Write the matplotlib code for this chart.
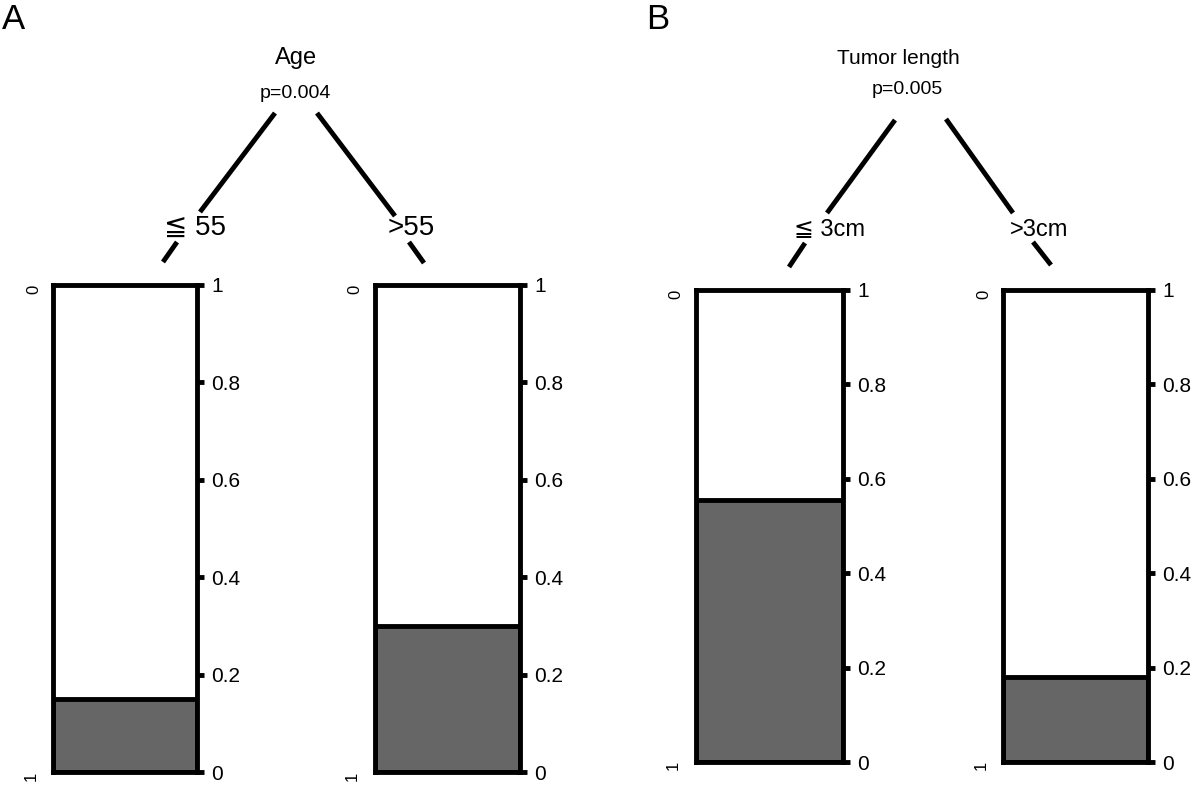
import matplotlib
matplotlib.use("Agg")
import matplotlib.pyplot as plt

# Data
panels = ["A", "B"]
node_titles = ["Age", "Tumor length"]
p_values = ["p=0.004", "p=0.005"]
branch_labels = ["≦ 55", ">55", "≦ 3cm", ">3cm"]
proportions = [0.15, 0.30, 0.555, 0.18]
tick_values = [0, 0.2, 0.4, 0.6, 0.8, 1]
tick_labels = ["0", "0.2", "0.4", "0.6", "0.8", "1"]

W, H = 1200, 786
SANS = ["Liberation Sans", "DejaVu Sans"]

# bar boxes in pixels: left, right, top, bottom
boxes = [(53, 197, 285, 772), (374.5, 520, 285, 772),
         (695.5, 843, 290, 762), (1003, 1148, 290, 762)]

fig = plt.figure(figsize=(W / 100, H / 100), dpi=100)

for (l, r, t, b), v in zip(boxes, proportions):
    ax = fig.add_axes([l / W, (H - b) / H, (r - l) / W, (b - t) / H])
    ax.bar(0.5, v, width=1, color="#666666", edgecolor="black", linewidth=3.5)
    ax.set_xlim(0, 1)
    ax.set_ylim(0, 1)
    for s in ax.spines.values():
        s.set_linewidth(3.5)
    ax.set_xticks([])
    ax.yaxis.tick_right()
    ax.set_yticks(tick_values)
    ax.set_yticklabels(tick_labels, family=SANS, fontsize=15)
    ax.tick_params(axis="y", length=5, width=3.5, pad=5)
    ax.text(-0.135, 0.99, "0", transform=ax.transAxes, rotation=90,
            ha="center", va="center", fontsize=12, family=SANS)
    ax.text(-0.15, -0.008, "1", transform=ax.transAxes, rotation=90,
            ha="center", va="center", fontsize=12, family=SANS)

# overlay for tree
ov = fig.add_axes([0, 0, 1, 1])
ov.set_xlim(0, W)
ov.set_ylim(H, 0)
ov.axis("off")

segments = [
    [(275, 113), (200, 212)], [(317, 113), (395, 216)],
    [(177, 242), (163, 262)], [(409, 242), (424, 263)],
    [(895, 120), (827, 213)], [(946, 119), (1013, 213)],
    [(805, 243), (789, 267)], [(1033, 242), (1051, 265)],
]
for (x0, y0), (x1, y1) in segments:
    ov.plot([x0, x1], [y0, y1], color="black", lw=3.5, solid_capstyle="butt")

ov.text(2, 3, panels[0], fontsize=25, family=SANS, ha="left", va="top")
ov.text(646, 3, panels[1], fontsize=25, family=SANS, ha="left", va="top")

ov.text(296, 58, node_titles[0], fontsize=17, family=SANS, ha="center", va="center")
ov.text(295, 93, p_values[0], fontsize=14, family=SANS, ha="center", va="center")
ov.text(898, 58, node_titles[1], fontsize=15, family=SANS, ha="center", va="center")
ov.text(907, 89, p_values[1], fontsize=14, family=SANS, ha="center", va="center")

ov.text(195, 228, branch_labels[0], fontsize=20, family=SANS, ha="center", va="center")
ov.text(411, 228, branch_labels[1], fontsize=20, family=SANS, ha="center", va="center")
ov.text(830, 230, branch_labels[2], fontsize=17, family=SANS, ha="center", va="center")
ov.text(1039, 230, branch_labels[3], fontsize=17, family=SANS, ha="center", va="center")

fig.savefig("out.png", dpi=100)
